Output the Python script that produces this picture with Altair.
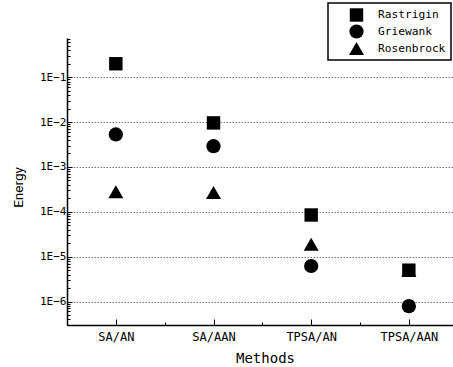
import json
import altair as alt
import pandas as pd

methods = ["SA/AN", "SA/AAN", "TPSA/AN", "TPSA/AAN"]
functions = ["Rastrigin", "Griewank", "Rosenbrock"]
rastrigin = [0.2, 0.0096, 8.5e-5, 5.0e-6]
griewank = [0.0053, 0.0029, 6.2e-6, 7.9e-7]
rosenbrock = [2.8e-4, 2.7e-4, 1.9e-5, 4.9e-6]
shapes = ["square", "circle", "triangle-up"]
sizes = [180, 225, 256]

rows = []
for fname, vals in zip(functions, [rastrigin, griewank, rosenbrock]):
    for i, (m, v) in enumerate(zip(methods, vals)):
        rows.append({"Method": m, "idx": i + 1, "Function": fname, "Energy": v})
df = pd.DataFrame(rows)

y_min, y_max = 3e-7, 0.75
y_ticks = [float(f"{m}e{k}") for k in range(-7, 0) for m in range(1, 10)]
y_ticks = [t for t in y_ticks if y_min <= t <= y_max]
x_ticks = [1, 1.5, 2, 2.5, 3, 3.5, 4]

is_decade = "abs(log(datum.value)/LN10 - round(log(datum.value)/LN10)) < 1e-6"
is_major_x = "datum.value % 1 == 0"

x_axis = alt.Axis(
    values=x_ticks,
    labelExpr=f"{is_major_x} ? {json.dumps(methods)}[datum.value - 1] : ''",
    tickSize={"condition": {"test": is_major_x, "value": -6}, "value": -3},
    grid=False,
    labelFont="DejaVu Sans Mono",
    labelFontSize=12,
    labelPadding=12,
    labelAngle=0,
    title="Methods",
    titleFont="DejaVu Sans Mono",
    titleFontSize=14,
    titleFontWeight="normal",
    titleX=198,
    titleY=37,
    titleBaseline="alphabetic",
)

y_axis = alt.Axis(
    values=y_ticks,
    labelExpr=f"{is_decade} ? '1E\u2212' + round(-log(datum.value)/LN10) : ''",
    tickSize={"condition": {"test": is_decade, "value": -5}, "value": -3},
    grid=True,
    gridOpacity={"condition": {"test": is_decade, "value": 1}, "value": 0},
    gridColor="#777777",
    gridDash=[1.5, 1.5],
    gridWidth=1,
    labelFont="DejaVu Sans Mono",
    labelFontSize=11,
    labelPadding=6,
    labelBaseline="middle",
    title="Energy",
    titleFont="Roboto",
    titleFontSize=13.5,
    titleFontWeight="normal",
    titleAngle=-90,
    titleX=-45,
    titleY=149,
    titleBaseline="alphabetic",
)

legend = alt.Legend(
    title=None,
    orient="none",
    legendX=261,
    legendY=-35,
    strokeColor="black",
    fillColor="white",
    padding=5,
    symbolOffset=16,
    labelOffset=14,
    labelFont="DejaVu Sans Mono",
    labelFontSize=11.2,
    labelColor="black",
    symbolFillColor="black",
    symbolStrokeWidth=0,
    rowPadding=2,
)

chart = alt.Chart(df).mark_point(filled=True, opacity=1, color="black").encode(
    x=alt.X("idx:Q", scale=alt.Scale(domain=[0.5, 4.452], nice=False, zero=False), axis=x_axis),
    y=alt.Y("Energy:Q", scale=alt.Scale(type="log", domain=[y_min, y_max], nice=False), axis=y_axis),
    shape=alt.Shape("Function:N", scale=alt.Scale(domain=functions, range=shapes), legend=legend),
    size=alt.Size("Function:N", scale=alt.Scale(domain=functions, range=sizes), legend=legend),
).properties(
    width=386,
    height=287,
    background="white",
    autosize=alt.AutoSizeParams(type="none"),
    padding={"left": 67, "top": 38, "right": 0, "bottom": 42},
).configure_view(
    stroke=None
).configure_axis(
    domainColor="black",
    domainWidth=1.5,
    tickColor="black",
    tickWidth=1,
    labelColor="black",
    titleColor="black",
).configure_legend(
    strokeWidth=1.5,
)

chart.save("out.html", embed_options={"renderer": "svg", "actions": False})
